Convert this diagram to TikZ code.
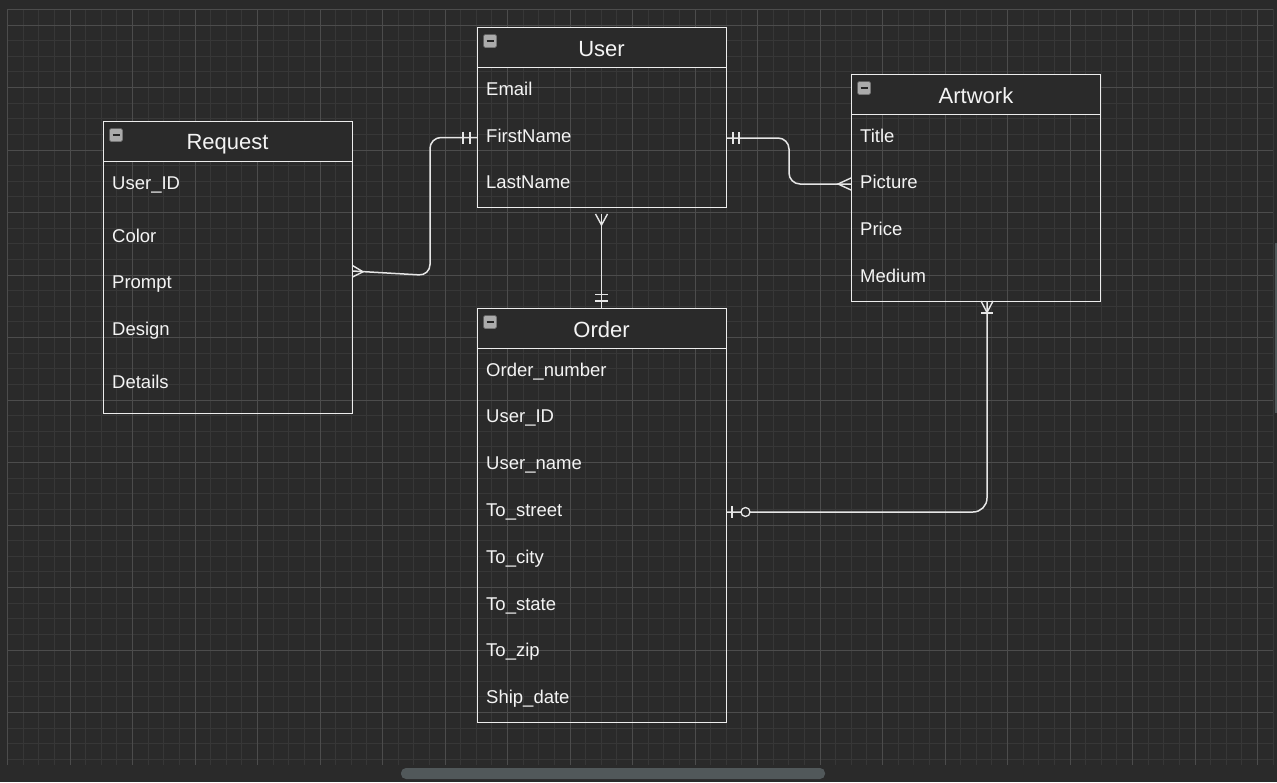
\documentclass[tikz,border=0pt]{standalone}
\usepackage{fontspec}
\setmainfont{Liberation Sans}
\definecolor{bg}{HTML}{2A2A2A}
\definecolor{gridminor}{HTML}{373737}
\definecolor{gridmajor}{HTML}{4C4C4C}
\definecolor{boxline}{HTML}{EDEDED}
\definecolor{txt}{HTML}{F4F4F4}
\definecolor{lnk}{HTML}{E6E6E6}
\definecolor{iconfill}{HTML}{ABABAB}
\definecolor{icondraw}{HTML}{6E6E6E}
\definecolor{scroll}{HTML}{51585A}
\tikzset{
  minorgrid/.style={draw=gridminor, line width=0.8pt},
  majorgrid/.style={draw=gridmajor, line width=0.9pt},
  entity/.style={draw=boxline, line width=1.3pt, anchor=north west, inner sep=0pt, minimum width=249pt},
  header/.style={draw=boxline, fill=bg, line width=1.3pt, anchor=north west, minimum width=249pt, minimum height=40pt, inner sep=0pt},
  title/.style={text=txt, font=\fontsize{22}{26}\selectfont, anchor=base, inner sep=0pt},
  field/.style={text=txt, font=\fontsize{18.5}{22}\selectfont, anchor=base west, inner sep=0pt},
  conn/.style={draw=lnk, line width=1.5pt},
  ermark/.style={draw=lnk, line width=1.4pt},
  icon/.style={draw=icondraw, fill=iconfill, minimum size=13pt, inner sep=0pt, rounded corners=1.5pt,
    path picture={\draw[black!85, line width=2pt] ([xshift=3pt]path picture bounding box.west) -- ([xshift=-3pt]path picture bounding box.east);}},
  ocircle/.style={circle, draw=lnk, fill=bg, line width=1.3pt, minimum size=9pt, inner sep=0pt},
}
\begin{document}
\begin{tikzpicture}[x=1pt,y=-1pt]
\useasboundingbox (0,0) rectangle (1277,782);
\fill[bg] (0,0) rectangle (1277,782);
% grid
\foreach \i in {0,...,81} \draw[minorgrid] ({7.5+15.625*\i},9.4) -- ({7.5+15.625*\i},765);
\foreach \j in {0,...,48} \draw[minorgrid] (7.5,{9.375+15.625*\j}) -- (1273,{9.375+15.625*\j});
\foreach \i in {0,...,20} \draw[majorgrid] ({7.5+62.5*\i},9.4) -- ({7.5+62.5*\i},765);
\foreach \j in {0,...,11} \draw[majorgrid] (7.5,{25+62.5*\j}) -- (1273,{25+62.5*\j});
\draw[gridmajor, line width=0.9pt] (7.5,9.4) -- (1273,9.4);
% scrollbars
\fill[scroll, rounded corners=5pt] (401,768) rectangle (825,779);
\fill[scroll] (1274.8,243) rectangle (1277,413);

% ---------- entities ----------
\node[entity, minimum height=180pt] (user) at (477,27) {};
\node[header] (userH) at (477,27) {};
\node[title] (userT) at (601.5,56) {User};
\node[icon] (userI) at (490,41) {};
\node[field] (uEmail) at (486,95) {Email};
\node[field] (uFirst) at (486,142) {FirstName};
\node[field] (uLast) at (486,188) {LastName};

\node[entity, minimum height=292pt] (request) at (103,121) {};
\node[header] (requestH) at (103,121) {};
\node[title] (requestT) at (227.5,149) {Request};
\node[icon] (requestI) at (116,135) {};
\node[field] (rUser) at (112,189) {User\_ID};
\node[field] (rColor) at (112,242) {Color};
\node[field] (rPrompt) at (112,288) {Prompt};
\node[field] (rDesign) at (112,335) {Design};
\node[field] (rDetails) at (112,388) {Details};

\node[entity, minimum height=227pt] (artwork) at (851,74) {};
\node[header] (artworkH) at (851,74) {};
\node[title] (artworkT) at (976,103) {Artwork};
\node[icon] (artworkI) at (864,88) {};
\node[field] (aTitle) at (860,142) {Title};
\node[field] (aPicture) at (860,188) {Picture};
\node[field] (aPrice) at (860,235) {Price};
\node[field] (aMedium) at (860,282) {Medium};

\node[entity, minimum height=414pt] (order) at (477,308) {};
\node[header] (orderH) at (477,308) {};
\node[title] (orderT) at (601.5,337) {Order};
\node[icon] (orderI) at (490,322) {};
\node[field] (oNum) at (486,376) {Order\_number};
\node[field] (oUid) at (486,422) {User\_ID};
\node[field] (oUname) at (486,469) {User\_name};
\node[field] (oStreet) at (486,516) {To\_street};
\node[field] (oCity) at (486,563) {To\_city};
\node[field] (oState) at (486,610) {To\_state};
\node[field] (oZip) at (486,656) {To\_zip};
\node[field] (oShip) at (486,703) {Ship\_date};

% ---------- connector end points ----------
\coordinate (rqE) at (352.5,271);
\coordinate (usW) at (477,137.5);
\coordinate (usE) at (726,138);
\coordinate (arW) at (851,184);
\coordinate (usS) at (601.5,214);
\coordinate (orN) at (601.5,308);
\coordinate (orE) at (726,512);
\coordinate (arS) at (987,301);

% Request -- User
\draw[conn, rounded corners=11pt] (rqE) -- (430,275.5) -- (430,137.5) -- (usW);
\draw[ermark] (352.5,265.5) -- (363,271.8) -- (352.5,277);
\draw[ermark] (463,131.5) -- (463,143.5);
\draw[ermark] (470,131.5) -- (470,143.5);

% User -- Artwork
\draw[conn, rounded corners=11pt] (usE) -- (789,138) -- (789,184) -- (arW);
\draw[ermark] (733,132) -- (733,144);
\draw[ermark] (739,132) -- (739,144);
\draw[ermark] (851,178) -- (838,184) -- (851,190);

% User -- Order
\draw[conn] (usS) -- (orN);
\draw[ermark] (595.5,214) -- (601.5,225) -- (607.5,214);
\draw[ermark] (595,294.5) -- (608,294.5);
\draw[ermark] (595,301) -- (608,301);

% Order -- Artwork
\draw[conn, rounded corners=14pt] (orE) -- (987,512) -- (arS);
\draw[ermark] (732,506) -- (732,518);
\node[ocircle] (orC) at (745.5,512) {};
\draw[ermark] (981,301) -- (987,312.5) -- (993,301);
\draw[ermark] (981,313) -- (993,313);
\end{tikzpicture}
\end{document}
